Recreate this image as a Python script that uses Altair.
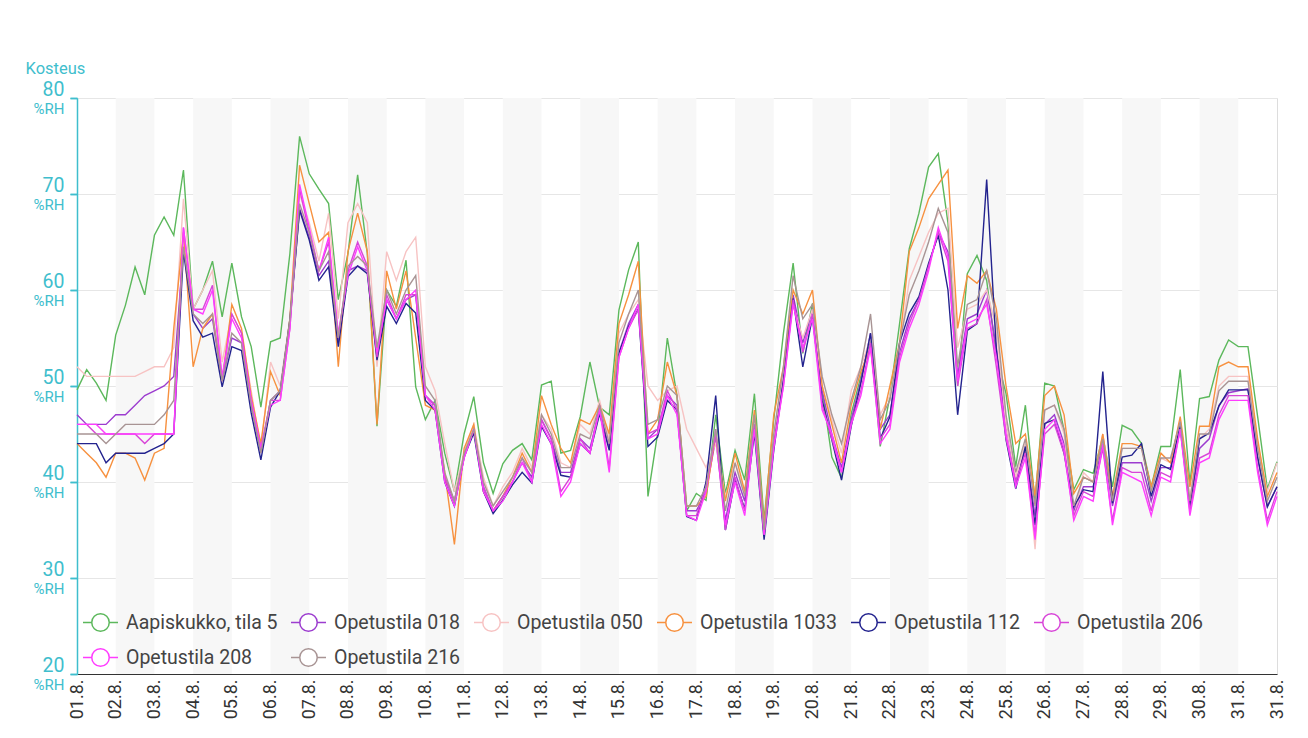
import json
import pandas as pd
import altair as alt

# ---------------- data (6-hour samples, 01.8. 00:00 ... 01.9. 00:00) ----------------
names = ["Aapiskukko, tila 5", "Opetustila 018", "Opetustila 050", "Opetustila 1033",
         "Opetustila 112", "Opetustila 206", "Opetustila 208", "Opetustila 216"]
colors = ["#5cb85c", "#9c3ccf", "#f7c3c3", "#f7913f", "#23238e", "#d845d8", "#ff3cff", "#a89494"]

day_labels = ["01.8.", "02.8.", "03.8.", "04.8.", "05.8.", "06.8.", "07.8.", "08.8.", "09.8.",
              "10.8.", "11.8.", "12.8.", "13.8.", "14.8.", "15.8.", "16.8.", "17.8.", "18.8.",
              "19.8.", "20.8.", "21.8.", "22.8.", "23.8.", "24.8.", "25.8.", "26.8.", "27.8.",
              "28.8.", "29.8.", "30.8.", "31.8.", "31.8."]
y_ticks = [20, 30, 40, 50, 60, 70, 80]

aapiskukko = [
    49.6, 51.7, 50.3, 48.5,  55.3, 58.4, 62.4, 59.5,  65.7, 67.6, 65.7, 72.5,
    58.0, 60.0, 63.0, 57.2,  62.8, 57.2, 54.1, 47.8,  54.6, 55.0, 63.8, 76.0,
    72.1, 70.5, 69.0, 59.0,  63.8, 72.0, 63.8, 45.8,  60.0, 58.3, 63.1, 49.9,
    46.5, 48.5, 43.0, 39.0,  45.0, 48.9, 42.0, 38.8,  41.9, 43.3, 44.0, 42.3,
    50.1, 50.5, 43.0, 43.3,  46.8, 52.5, 47.8, 47.0,  57.9, 62.1, 65.0, 38.5,
    45.1, 55.0, 49.0, 37.0,  38.8, 38.1, 47.0, 38.8,  43.3, 40.2, 49.2, 36.0,
    46.5, 55.5, 62.8, 53.4,  58.6, 49.6, 42.6, 40.4,  47.1, 51.0, 54.8, 43.7,
    48.9, 56.5, 64.3, 68.0,  72.8, 74.2, 67.0, 50.0,  61.7, 63.6, 61.0, 53.1,
    49.2, 41.6, 48.0, 38.0,  50.3, 50.0, 45.4, 39.2,  41.3, 40.9, 44.7, 39.5,
    45.9, 45.4, 44.0, 39.5,  43.7, 43.7, 51.7, 39.9,  48.7, 48.9, 52.7, 54.8,
    54.1, 54.1, 46.8, 39.3,  42.1]

opetustila_018 = [
    47.0, 46.0, 46.0, 46.0,  47.0, 47.0, 48.0, 49.0,  49.5, 50.0, 51.0, 64.5,
    57.5, 56.0, 57.0, 50.5,  55.0, 54.5, 48.0, 43.0,  48.5, 49.5, 56.5, 68.5,
    65.5, 61.5, 63.0, 54.5,  62.0, 62.5, 62.0, 53.0,  59.0, 57.0, 59.0, 59.5,
    49.0, 48.0, 40.5, 38.0,  43.0, 45.5, 39.5, 37.0,  38.5, 40.0, 42.0, 40.5,
    46.5, 44.5, 41.0, 41.0,  44.5, 43.5, 47.5, 43.5,  53.5, 56.5, 58.5, 44.5,
    45.5, 49.0, 48.0, 37.0,  37.0, 39.0, 44.5, 36.0,  41.0, 38.0, 46.0, 34.5,
    44.0, 51.0, 59.5, 54.5,  58.0, 49.5, 45.0, 41.5,  46.5, 50.5, 55.5, 45.5,
    47.0, 53.5, 57.0, 59.0,  62.5, 66.0, 64.0, 51.0,  57.0, 57.5, 60.0, 54.0,
    46.0, 40.0, 43.5, 36.5,  46.0, 47.0, 44.0, 37.0,  39.5, 39.5, 44.0, 37.5,
    42.0, 42.0, 42.0, 38.0,  41.5, 41.5, 46.0, 37.5,  43.5, 44.5, 48.0, 49.3,
    49.5, 49.7, 42.5, 37.5,  39.5]

opetustila_050 = [
    52.0, 51.0, 51.0, 51.0,  51.0, 51.0, 51.0, 51.5,  52.0, 52.0, 54.0, 69.5,
    58.0, 60.0, 62.0, 52.5,  57.5, 55.5, 49.5, 43.5,  52.5, 50.0, 57.0, 70.0,
    67.0, 63.0, 68.0, 57.0,  67.0, 69.0, 67.0, 52.0,  64.0, 61.0, 64.0, 65.5,
    52.0, 49.5, 44.0, 39.0,  43.0, 46.0, 40.5, 37.5,  39.5, 41.0, 43.5, 41.5,
    47.0, 45.5, 42.0, 41.5,  46.0, 45.0, 48.5, 44.5,  55.5, 57.5, 59.0, 50.0,
    48.5, 49.5, 50.0, 45.5,  43.5, 41.5, 44.0, 38.5,  42.0, 39.0, 47.0, 35.0,
    45.0, 51.5, 58.5, 55.0,  58.0, 50.0, 46.5, 43.0,  49.5, 52.0, 55.0, 47.0,
    49.0, 54.0, 61.0, 63.5,  66.0, 68.0, 68.5, 54.0,  58.0, 58.5, 60.0, 56.0,
    46.0, 40.5, 44.0, 33.0,  47.5, 48.0, 45.0, 36.0,  41.0, 40.0, 45.0, 38.5,
    43.5, 43.5, 43.5, 39.0,  42.5, 42.0, 46.5, 38.5,  44.5, 45.5, 50.0, 51.0,
    51.0, 51.0, 44.0, 39.0,  42.0]

opetustila_1033 = [
    44.0, 43.0, 42.0, 40.5,  43.0, 43.0, 42.5, 40.2,  43.0, 43.5, 56.0, 66.0,
    52.0, 56.0, 57.5, 50.5,  58.5, 56.0, 49.0, 44.0,  51.5, 49.0, 57.0, 73.0,
    69.0, 65.0, 66.0, 52.0,  64.0, 68.0, 64.0, 46.0,  62.0, 58.0, 62.0, 55.0,
    48.0, 47.5, 41.0, 33.5,  43.5, 46.0, 39.0, 37.0,  38.5, 40.5, 43.0, 41.0,
    49.0, 46.0, 43.5, 42.0,  46.5, 46.0, 48.0, 45.0,  56.5, 59.5, 63.0, 45.0,
    46.5, 52.5, 49.0, 37.5,  37.5, 38.5, 45.0, 38.0,  43.0, 39.0, 47.5, 35.5,
    47.0, 52.0, 60.0, 57.5,  60.0, 50.0, 46.0, 42.0,  48.0, 51.5, 54.0, 45.5,
    50.0, 54.5, 64.0, 66.5,  69.5, 71.0, 72.5, 56.0,  61.5, 60.7, 62.0, 58.0,
    50.0, 44.0, 45.0, 38.5,  49.0, 50.0, 47.0, 38.8,  40.5, 40.0, 45.0, 38.5,
    44.0, 44.0, 43.7, 39.5,  43.0, 42.0, 46.8, 39.5,  45.8, 45.8, 52.0, 52.5,
    52.0, 52.0, 44.5, 38.5,  41.0]

opetustila_112 = [
    44.0, 44.0, 44.0, 42.0,  43.0, 43.0, 43.0, 43.0,  43.5, 44.0, 45.0, 64.0,
    56.8, 55.1, 55.5, 49.9,  54.1, 53.7, 47.2, 42.3,  47.8, 49.5, 56.9, 68.3,
    65.2, 61.0, 62.4, 54.1,  61.4, 62.5, 61.7, 52.7,  58.3, 56.5, 58.6, 57.6,
    48.5, 47.5, 40.0, 37.5,  42.6, 45.1, 39.0, 36.7,  38.1, 39.7, 41.0, 39.9,
    45.8, 44.0, 40.7, 40.5,  44.0, 43.0, 47.1, 43.3,  53.4, 56.2, 58.0, 43.7,
    44.7, 48.5, 47.5, 36.4,  36.0, 40.0, 49.0, 35.0,  40.2, 37.2, 45.1, 34.0,
    43.3, 50.6, 59.1, 52.0,  57.2, 48.5, 44.4, 40.2,  45.8, 50.3, 55.5, 44.5,
    46.8, 54.5, 57.6, 59.3,  62.8, 65.7, 60.0, 47.0,  55.8, 56.5, 71.5, 53.8,
    44.4, 39.3, 43.7, 35.5,  46.1, 46.5, 43.0, 37.4,  39.2, 39.0, 51.5, 37.8,
    42.6, 42.8, 44.0, 38.5,  41.8, 41.3, 45.8, 37.4,  44.5, 45.1, 47.9, 49.6,
    49.6, 49.6, 42.6, 37.4,  39.5]

opetustila_206 = [
    46.0, 46.0, 45.0, 45.0,  45.0, 45.0, 45.0, 44.0,  45.0, 45.0, 45.0, 66.5,
    58.0, 58.0, 60.5, 50.5,  57.5, 55.5, 48.5, 43.5,  48.5, 48.5, 56.0, 70.5,
    66.0, 62.0, 65.0, 55.0,  62.0, 65.0, 62.5, 53.0,  59.5, 57.0, 59.5, 59.5,
    49.0, 48.0, 40.5, 38.0,  42.5, 45.5, 39.5, 37.0,  38.5, 40.0, 42.5, 40.0,
    46.5, 44.5, 39.0, 40.5,  44.5, 43.0, 48.0, 41.5,  53.0, 56.0, 58.0, 45.0,
    45.5, 49.5, 47.5, 36.5,  36.5, 39.5, 45.0, 35.0,  40.5, 37.0, 46.0, 34.5,
    44.0, 50.0, 59.0, 53.5,  57.5, 48.0, 44.5, 41.0,  46.0, 49.5, 54.5, 44.5,
    46.0, 53.0, 56.5, 59.0,  62.5, 66.0, 63.0, 50.0,  56.0, 56.5, 59.0, 52.0,
    44.5, 40.0, 43.0, 34.5,  45.0, 46.0, 43.0, 36.5,  39.0, 38.5, 43.5, 36.0,
    41.5, 41.0, 41.0, 37.0,  41.0, 40.5, 45.5, 37.0,  42.5, 43.0, 47.0, 49.0,
    49.0, 49.0, 41.5, 36.0,  39.0]

opetustila_208 = [
    46.0, 46.0, 46.0, 45.0,  45.0, 45.0, 45.0, 45.0,  45.0, 45.0, 45.0, 66.5,
    58.0, 57.5, 60.0, 51.0,  57.0, 55.0, 48.5, 43.5,  48.0, 48.5, 56.0, 71.0,
    66.5, 62.0, 65.5, 55.5,  61.5, 64.5, 62.0, 53.5,  59.0, 57.0, 59.0, 60.0,
    49.0, 47.5, 40.0, 37.5,  42.5, 45.5, 39.0, 37.0,  38.0, 40.0, 42.0, 40.0,
    46.0, 44.0, 38.5, 40.0,  44.0, 43.0, 47.5, 41.0,  53.0, 56.0, 58.5, 44.5,
    45.0, 49.0, 47.0, 36.5,  36.0, 39.0, 45.5, 35.5,  40.0, 36.5, 45.5, 34.5,
    43.5, 50.0, 58.5, 54.0,  57.0, 47.5, 45.0, 41.0,  46.0, 49.0, 54.0, 44.0,
    45.5, 52.5, 56.0, 58.5,  62.0, 66.5, 63.5, 50.5,  56.5, 57.0, 58.5, 53.0,
    45.0, 39.5, 42.5, 34.0,  45.5, 46.5, 43.5, 36.0,  38.5, 38.0, 44.0, 35.5,
    41.0, 40.5, 40.0, 36.5,  40.5, 40.0, 45.5, 36.5,  42.0, 42.5, 46.5, 48.5,
    48.5, 48.5, 41.0, 35.5,  38.5]

opetustila_216 = [
    45.0, 45.0, 45.0, 44.0,  45.0, 46.0, 46.0, 46.0,  46.0, 47.0, 48.5, 64.5,
    57.5, 56.5, 57.5, 50.5,  55.5, 54.5, 48.0, 43.0,  48.5, 49.5, 57.0, 69.0,
    66.0, 62.0, 64.0, 55.0,  62.5, 63.5, 62.5, 54.0,  60.0, 57.5, 60.0, 61.5,
    50.0, 48.5, 41.0, 38.0,  43.0, 45.5, 40.0, 37.5,  39.0, 40.5, 42.5, 41.0,
    47.0, 45.0, 41.5, 41.5,  45.0, 44.5, 48.0, 44.0,  54.5, 57.5, 60.0, 46.0,
    46.5, 50.0, 49.0, 37.5,  37.5, 39.5, 45.5, 37.0,  42.0, 38.5, 47.0, 35.0,
    45.0, 52.0, 61.5, 57.0,  58.5, 51.0, 47.0, 44.0,  48.5, 52.0, 57.5, 46.5,
    48.5, 54.5, 59.5, 62.0,  65.0, 68.5, 66.0, 52.0,  58.5, 59.0, 62.0, 57.0,
    47.0, 41.0, 44.5, 37.5,  47.5, 48.0, 45.5, 37.5,  40.5, 40.0, 44.5, 38.0,
    43.5, 43.5, 43.5, 39.0,  42.5, 42.5, 46.3, 38.0,  45.0, 45.0, 49.5, 50.5,
    50.5, 50.5, 43.5, 38.0,  40.5]

series_values = [aapiskukko, opetustila_018, opetustila_050, opetustila_1033,
                 opetustila_112, opetustila_206, opetustila_208, opetustila_216]

# ---------------- tables ----------------
rows = []
for k, (name, vals) in enumerate(zip(names, series_values)):
    for i, v in enumerate(vals):
        rows.append({"t": i / 4.0, "v": v, "s": name, "k": k})
df = pd.DataFrame(rows)

bands = pd.DataFrame({"a": list(range(1, 31, 2)), "b": list(range(2, 32, 2))})
ticks_df = pd.DataFrame({"v": y_ticks})

teal = "#3fbecd"
font = "Roboto"
label_expr = json.dumps(day_labels) + "[datum.value]"

x_axis = alt.Axis(values=list(range(0, 32)), labelExpr=label_expr, labelAngle=270,
                  labelFontSize=18, labelColor="#333333", labelFont=font,
                  labelOverlap=False, labelFlush=False, labelBound=False, labelPadding=5,
                  domainColor="#333333", domainWidth=1, ticks=False, grid=False, title=None)
x_scale = alt.Scale(domain=[0, 31], nice=False, zero=False)
y_scale = alt.Scale(domain=[20, 80], nice=False, zero=False)

band_layer = alt.Chart(bands).mark_rect(color="#f7f7f7").encode(
    x=alt.X("a:Q", scale=x_scale, axis=x_axis),
    x2="b:Q",
    y=alt.datum(20, type="quantitative", scale=y_scale, axis=None),
    y2=alt.datum(80),
)

lines = alt.Chart(df).mark_line(strokeWidth=1.4).encode(
    x=alt.X("t:Q", scale=x_scale, axis=x_axis),
    y=alt.Y("v:Q", scale=y_scale, axis=alt.Axis(
        values=y_ticks, orient="left", labelFontSize=19.5, labelColor=teal, labelFont=font,
        labelBaseline="alphabetic", labelOffset=-3, labelPadding=6,
        tickSize=7, tickColor=teal, tickWidth=1.5,
        domainColor=teal, domainWidth=1.5,
        grid=True, gridColor="#e6e6e6", gridWidth=1,
        title="Kosteus", titleAngle=0, titleAlign="left", titleBaseline="alphabetic",
        titleX=-52, titleY=-25, titleFontSize=16.5, titleFontWeight="normal",
        titleColor=teal, titleFont=font)),
    color=alt.Color("s:N", scale=alt.Scale(domain=names, range=colors), legend=alt.Legend(
        orient="none", legendX=5, legendY=506, direction="horizontal", columns=6,
        gridAlign="none", title=None,
        symbolType="M-1,0L-0.5,0M0.5,0L1,0M-0.5,0A0.5,0.5,0,1,1,0.5,0A0.5,0.5,0,1,1,-0.5,0",
        symbolSize=1225, symbolStrokeWidth=1.5, symbolFillColor="white",
        labelFontSize=19.5, labelColor="#444444", labelFont=font, labelOffset=7,
        labelLimit=0, columnPadding=10, rowPadding=4, padding=0)),
    order=alt.Order("k:Q"),
    detail="s:N",
)

rh_layer = alt.Chart(ticks_df).mark_point(opacity=0).encode(
    x=alt.value(0),
    y=alt.Y("v:Q", scale=y_scale, axis=alt.Axis(
        values=y_ticks, orient="left", labelExpr="'%RH'", labelFontSize=15,
        labelColor=teal, labelFont=font, labelBaseline="top", labelOffset=3,
        labelPadding=6, tickSize=7, tickColor=teal, tickWidth=1.5,
        domain=False, grid=False, title=None)),
)

chart = alt.layer(band_layer, lines, rh_layer).resolve_axis(y="independent").properties(
    width=1200, height=576, autosize=alt.AutoSizeParams(type="none"),
    padding={"left": 69, "top": 90, "right": 23, "bottom": 56},
    background="white",
).configure_view(stroke=None).configure(font=font)

chart.save("out.html", embed_options={"renderer": "svg", "actions": False})
